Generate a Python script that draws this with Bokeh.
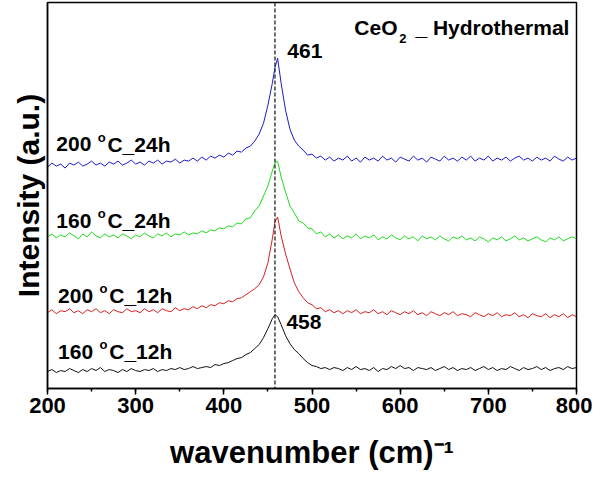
from bokeh.plotting import figure
from bokeh.models import Range1d, Span, Label, SingleIntervalTicker, FixedTicker
from bokeh.embed import file_html
from bokeh.resources import INLINE

# ---------------- data ----------------
wavenumber = list(range(200, 456, 5)) + [458, 461] + list(range(465, 801, 5))

int_200C_24h = [222,226,223,225,221,226,224,227,223,225, 228,224,226,223,227,225,228,224,226,229,
                225,227,224,228,226,229,225,228,227,230, 226,229,228,231,228,232,229,233,231,234,
                232,236,234,238,237,241,243,248,255,266, 284,306,
                322,331,
                306,279,260,249,243,239,234,235,231,233, 229,232,228,231,229,233,228,231,227,232,
                229,231,228,233,229,231,227,232,230,228, 233,229,231,227,232,230,228,233,229,231,
                228,232,229,233,228,231,229,233,228,231, 229,232,228,231,233,229,231,228,232,229,
                231,228,233,230,228,232,229,231]

int_160C_24h = [152,155,151,154,152,156,153,150,155,152, 157,153,151,155,152,154,151,155,153,150,
                154,152,156,153,151,155,153,156,152,155, 154,157,154,156,155,158,156,159,158,161,
                160,163,162,166,165,170,171,178,183,193, 203,218,
                226,228,
                212,197,183,176,168,166,161,160,155,157, 152,155,151,154,150,153,151,155,150,153,
                151,154,149,152,150,154,151,149,153,150, 152,148,153,150,152,149,153,150,148,152,
                150,153,149,151,148,152,150,147,151,149, 152,148,150,153,149,151,148,150,152,149,
                147,151,149,152,148,150,152,150]

int_200C_12h = [76,79,75,78,77,80,76,78,75,79, 77,80,76,78,75,79,77,76,80,77,
                78,76,80,77,79,76,80,78,77,81, 78,80,79,82,80,83,81,84,83,86,
                85,88,87,90,91,94,97,100,104,112, 126,150,
                167,172,
                153,135,120,106,97,91,86,84,80,81, 77,79,76,78,75,78,76,79,75,77,
                76,79,75,77,74,78,76,74,77,75, 78,74,76,73,77,75,73,76,74,77,
                73,75,74,72,76,74,72,75,73,76, 72,74,73,76,72,74,71,75,73,72,
                75,71,74,72,75,71,74,72]

int_160C_12h = [17,19,16,18,17,20,18,16,19,17, 20,18,21,17,19,18,16,19,17,20,
                18,17,19,18,20,17,19,18,20,19, 21,19,20,22,20,21,22,21,24,23,
                25,26,28,30,31,34,36,40,44,51, 60,70,
                74,72,
                64,53,45,39,35,30,26,23,22,20, 21,19,21,20,18,21,19,22,19,20,
                18,21,17,20,19,22,20,23,20,21, 18,21,20,19,21,18,20,22,19,21,
                18,20,19,21,18,20,22,19,21,18, 20,19,22,20,18,21,19,20,22,19,
                21,18,20,21,19,22,20,21]

series_names = ["200", "160", "200", "160"]
series_suffix = ["C_24h", "C_24h", "C_12h", "C_12h"]
series_colors = ["#1a1acc", "#1fdc1f", "#d42020", "#111111"]
series_values = [int_200C_24h, int_160C_24h, int_200C_12h, int_160C_12h]

peak_labels = ["461", "458"]
peak_positions = [461, 458]
x_ticks_major = 100

for s in series_values:
    assert len(s) == len(wavenumber), len(s)

FONT = "Liberation Sans"

p = figure(width=592, height=472, x_range=Range1d(200, 800), y_range=Range1d(0, 387),
           output_backend="svg", toolbar_location=None,
           min_border_left=47, min_border_right=16, min_border_top=2, min_border_bottom=82)

p.background_fill_color = "white"
p.border_fill_color = "white"
p.xgrid.visible = False
p.ygrid.visible = False
p.outline_line_color = "black"
p.outline_line_width = 1.5

# x axis
ax = p.xaxis[0]
ax.ticker = SingleIntervalTicker(interval=x_ticks_major, num_minor_ticks=2)
ax.axis_line_width = 1.5
ax.major_tick_in = 0
ax.major_tick_out = 6
ax.minor_tick_in = 0
ax.minor_tick_out = 3
ax.major_tick_line_width = 1.5
ax.minor_tick_line_width = 1.5
ax.major_label_text_font = FONT
ax.major_label_text_font_style = "bold"
ax.major_label_text_font_size = "22px"
ax.major_label_text_color = "black"
ax.major_label_standoff = 3
ax.axis_label = "wavenumber (cm)\u207b\u00b9"
ax.axis_label_text_font = FONT
ax.axis_label_text_font_style = "bold"
ax.axis_label_text_font_size = "31px"
ax.axis_label_text_color = "black"
ax.axis_label_standoff = 19

# y axis: no ticks
ay = p.yaxis[0]
ay.ticker = FixedTicker(ticks=[])
ay.axis_line_width = 1.5
ay.major_label_text_font_size = "0px"
ay.major_tick_line_color = None
ay.minor_tick_line_color = None
ay.axis_label = "Intensity (a.u.)"
ay.axis_label_text_font = FONT
ay.axis_label_text_font_style = "bold"
ay.axis_label_text_font_size = "30px"
ay.axis_label_text_color = "black"
ay.axis_label_standoff = 3

# spectra
for vals, col in zip(series_values, series_colors):
    p.line(wavenumber, vals, line_color=col, line_width=1)

# dashed line at the peak
p.add_layout(Span(location=peak_positions[1], dimension="height", line_color="#222222",
                  line_dash="4 2", line_width=1.3))

def lab(x, y, text, size, align="left"):
    p.add_layout(Label(x=x, y=y, text=text, text_font=FONT, text_font_style="bold",
                       text_font_size=f"{size}px", text_color="black",
                       text_baseline="middle", text_align=align))

# sample labels (number, superscript o, suffix)
label_pos = [(210, 245), (210, 168), (212, 93), (212, 37)]
for (lx, ly), num, suf in zip(label_pos, series_names, series_suffix):
    lab(lx, ly, num, 21)
    lab(lx + 47, ly + 7, "o", 13)
    lab(lx + 58, ly, suf, 21)

# peak labels
lab(472, 338, peak_labels[0], 21)
lab(471, 67, peak_labels[1], 21)

# title: CeO2 _ Hydrothermal
lab(597, 362, "CeO", 21, align="right")
lab(599, 351, "2", 13)
lab(792, 362, "_ Hydrothermal", 21, align="right")

open("out.html", "w").write(file_html(p, INLINE))
